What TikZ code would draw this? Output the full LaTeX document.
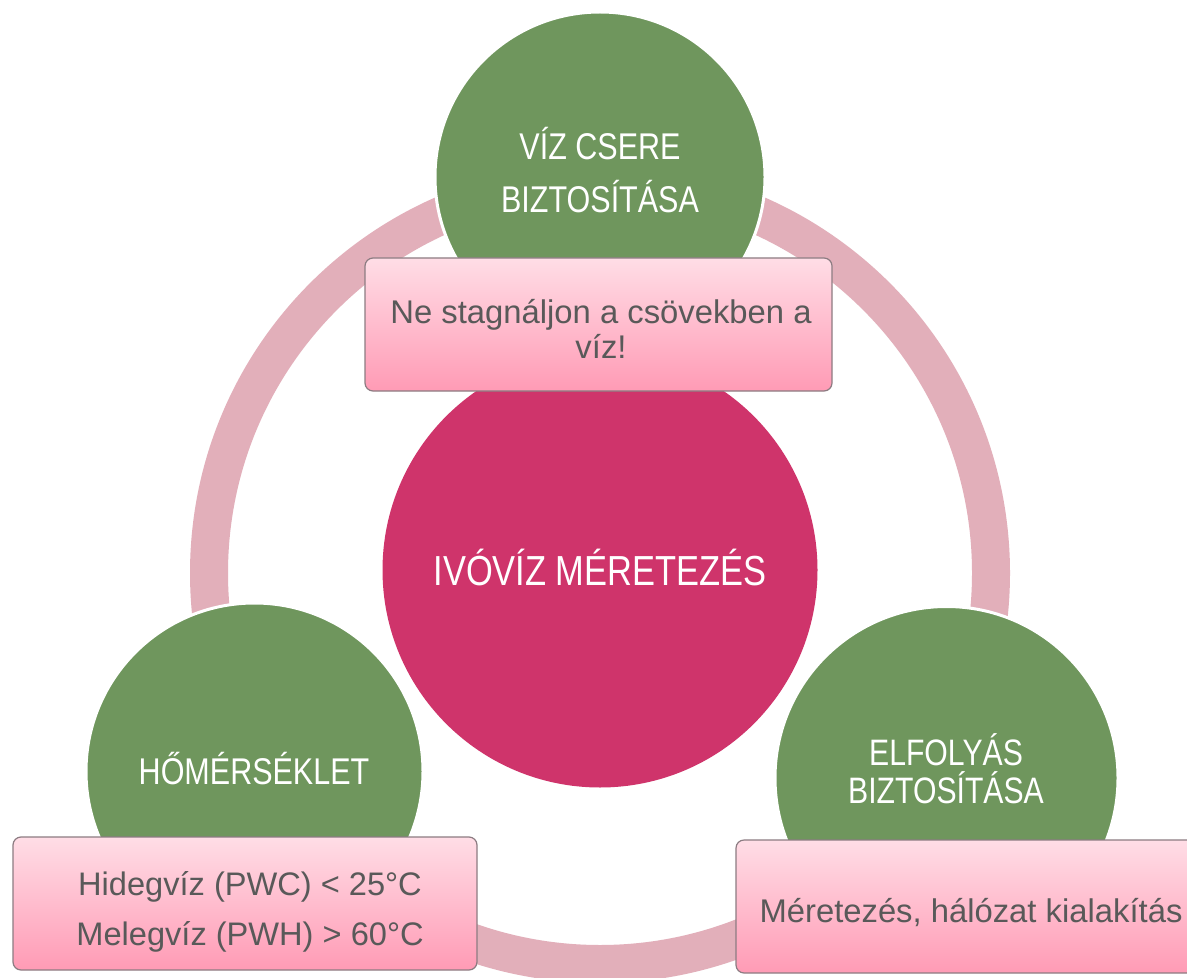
\documentclass[tikz,border=0pt]{standalone}
\usepackage{fontspec}
\setmainfont{Liberation Sans}
\newfontfamily\narrowfont[FakeStretch=0.82]{Liberation Sans}
\usetikzlibrary{positioning}
\definecolor{ringpink}{HTML}{E2AFBA}
\definecolor{leafgreen}{HTML}{6F965D}
\definecolor{corepink}{HTML}{CF346B}
\definecolor{boxlight}{HTML}{FFDDE6}
\definecolor{boxdark}{HTML}{FF9BB5}
\definecolor{boxline}{HTML}{8C7C82}
\definecolor{boxtext}{HTML}{595959}
\tikzstyle{ring} = [draw=ringpink, line width=19pt]
\tikzstyle{core} = [circle, fill=corepink, inner sep=0pt, minimum size=217.5pt]
\tikzstyle{leaf} = [circle, fill=leafgreen, draw=white, line width=1.5pt, inner sep=0pt]
\tikzstyle{leaftext} = [text=white, align=center, inner sep=0pt]
\tikzstyle{note} = [rectangle, rounded corners=4pt, draw=boxline, line width=0.6pt, top color=boxlight, bottom color=boxdark, minimum height=66.5pt]
\tikzstyle{notetext} = [text=boxtext, align=center, inner sep=0pt]

\begin{document}
\begin{tikzpicture}[x=0.5pt,y=-0.5pt]
		% page
		\clip (0,0) rectangle (1187,978);
		\fill[white] (0,0) rectangle (1187,978);

		% anchor block
		\coordinate (anchor) at (600,573);

		% ring
		\draw[ring] (anchor) circle (391);

		% centre
		\node[core] (core) at (600,570) {};
		\node[leaftext,font=\narrowfont\fontsize{21}{25}\selectfont] (coretext) at (600,567.5) {IVÓVÍZ MÉRETEZÉS};

		% leaves
		\node[leaf,minimum size=165pt] (leaftop) at (600,177) {};
		\node[leaf,minimum size=168.5pt] (leafleft) at (254.5,771.5) {};
		\node[leaf,minimum size=171.5pt] (leafright) at (946.5,778) {};
		\node[leaftext,font=\narrowfont\fontsize{18.6}{26.5}\selectfont] (toptext) at (600,170) {VÍZ CSERE\\BIZTOSÍTÁSA};
		\node[leaftext,font=\narrowfont\fontsize{18.6}{22}\selectfont] (lefttext) at (254,769) {HŐMÉRSÉKLET};
		\node[leaftext,font=\narrowfont\fontsize{18.4}{19}\selectfont] (righttext) at (946,768.5) {ELFOLYÁS\\BIZTOSÍTÁSA};

		% notes
		\node[note,minimum width=233.5pt] (notetop) at (598.5,324.5) {};
		\node[note,minimum width=232pt] (noteleft) at (245,903.5) {};
		\node[note,minimum width=232.5pt] (noteright) at (968.5,906.5) {};
		\node[notetext,font=\fontsize{16.4}{17.5}\selectfont] (notetoptext) at (601,328.5) {Ne stagnáljon a csövekben a\\víz!};
		\node[notetext,font=\fontsize{16.3}{25}\selectfont] (notelefttext) at (250,911.5) {Hidegvíz (PWC) < 25°C\\Melegvíz (PWH) > 60°C};
		\node[notetext,font=\fontsize{16.4}{20}\selectfont] (noterighttext) at (971,912.5) {Méretezés, hálózat kialakítás};
	\end{tikzpicture}
\end{document}
